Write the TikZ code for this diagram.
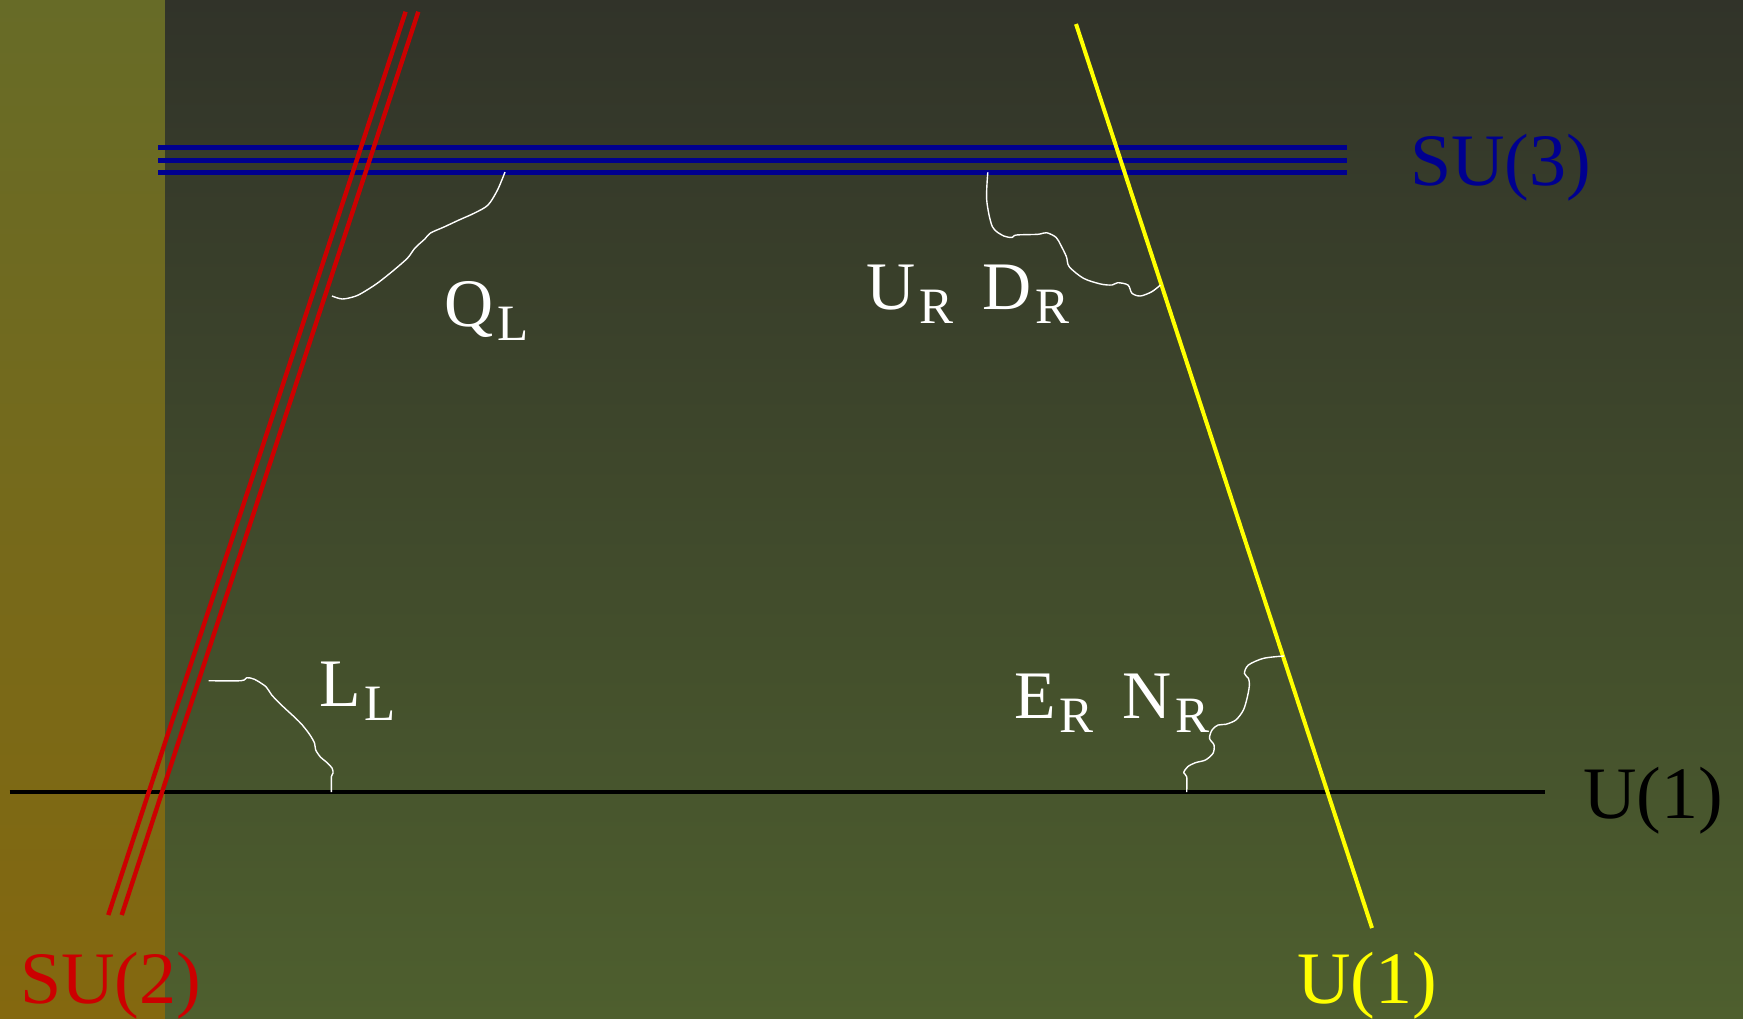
\documentclass[tikz,border=0pt]{standalone}
\usepackage{fontspec}
\setmainfont{Liberation Serif}
\usepackage{tikz}
\usetikzlibrary{positioning}
\usepackage{xcolor}

\definecolor{stripTop}{HTML}{676B27}
\definecolor{stripBot}{HTML}{84680F}
\definecolor{backTop}{HTML}{313329}
\definecolor{backBot}{HTML}{4E5F2E}
\definecolor{suthree}{HTML}{00008F}
\definecolor{sutwo}{HTML}{CC0000}
\definecolor{uone}{HTML}{FFFF00}

% field with a lowered index
\newcommand{\rep}[2]{#1\kern2pt\raisebox{-7pt}{\fontsize{25.5}{25.5}\selectfont #2}}

\begin{document}
\begin{tikzpicture}[x=0.5pt, y=-0.5pt,
      group/.style={font=\fontsize{37}{37}\selectfont, inner sep=0pt, anchor=base west},
      field/.style={font=\fontsize{34}{34}\selectfont, text=white, inner sep=0pt, anchor=base west},
      gauge/.style={line width=2.3pt},
      gluon/.style={draw=white, line width=0.7pt, line join=round}
    ]
    \useasboundingbox (0,0) rectangle (1743,1018);
    % background
    \shade[top color=stripTop, bottom color=stripBot] (0,0) rectangle (165,1018);
    \shade[top color=backTop, bottom color=backBot] (165,0) rectangle (1743,1018);

    % end points of the gauge lines
    \coordinate (su3w) at (158,0);
    \coordinate (su3e) at (1347,0);
    \coordinate (su2a) at (405.6,11.7);
    \coordinate (su2b) at (108.3,915);
    \coordinate (su2c) at (418.3,11.7);
    \coordinate (su2d) at (121.7,915);
    \coordinate (u1t) at (1076,24);
    \coordinate (u1b) at (1372,928);
    \coordinate (hyw) at (9.6,792);
    \coordinate (hye) at (1545,792);

    % SU(3): three lines
    \foreach \y in {147.7,160.3,172.3}
      \draw[gauge, suthree] ([yshift=-\y*0.5pt]su3w) -- ([yshift=-\y*0.5pt]su3e);
    \draw[gauge, black] (hyw) -- (hye);
    \draw[gauge, line width=2.2pt, sutwo] (su2a) -- (su2b);
    \draw[gauge, line width=2.2pt, sutwo] (su2c) -- (su2d);
    \draw[gauge, line width=2pt, uone] (u1t) -- (u1b);

    % group names
    \node[group, text=suthree] (su3) at (1410,185) {SU(3)};
    \node[group, text=black]   (u1)  at (1583,818) {U(1)};
    \node[group, text=uone]    (u1y) at (1297,1003) {U(1)};
    \node[group, text=sutwo]   (su2) at (20,1003) {SU(2)};

    % fields
    \node[field] (ql)   at (444,326) {\rep{Q}{L}};
    \node[field] (udr)  at (866,309) {\rep{U}{R}\hspace{0.42em}\rep{D}{R}};
    \node[field] (ll)   at (319,706) {\rep{L}{L}};
    \node[field] (enr)  at (1014,718) {\rep{E}{R}\hspace{0.42em}\rep{N}{R}};

    % wiggly links
    \draw[gluon] plot[smooth, tension=0.5] coordinates {(505,172) (497.5,190) (488,205) (474.6,213) (459,220)
      (444,227) (430.5,233) (424.8,239) (415,248) (407.6,258) (394,270) (379,282) (367,290)
      (356,296) (342.5,299) (332,296)};
    \draw[gluon] plot[smooth, tension=0.5] coordinates {(987.8,172.3) (986.7,200) (992.4,226.7) (1003.8,236)
      (1012.3,237.3) (1016.3,235) (1038,234.3) (1046.5,232.7) (1056,237.3) (1060.7,245)
      (1066.4,256.7) (1069.2,266.7) (1083.5,278.3) (1100.6,284) (1112,285) (1117.7,282.7)
      (1128,285) (1132,293.3) (1140.4,296) (1151.8,291.7) (1160.4,285)};
    \draw[gluon] plot[smooth, tension=0.5] coordinates {(208.6,680.7) (241,680.7) (246.8,677.7) (254.5,679.3)
      (266,686.7) (271.7,695) (283.2,706.7) (294.7,717.3) (302.3,725) (310,735) (314.6,743.3)
      (315.7,750) (320.7,757.3) (327.2,762.7) (332.2,768.3) (333,773.3) (331.4,776.7) (331.4,792)};
    \draw[gluon] plot[smooth, tension=0.5] coordinates {(1283.8,656) (1263.6,658.3) (1248.4,665) (1244.4,673.3)
      (1248.4,678.3) (1249.4,685) (1247.4,696.7) (1243.4,710) (1235.8,720) (1225.7,724.3)
      (1218,725) (1212,730) (1209.5,738.3) (1214,745) (1213,753.3) (1205.4,760) (1195.3,762.7)
      (1187.7,766.7) (1183.7,772.7) (1186.7,776.7) (1186.7,792)};
  \end{tikzpicture}
\end{document}
